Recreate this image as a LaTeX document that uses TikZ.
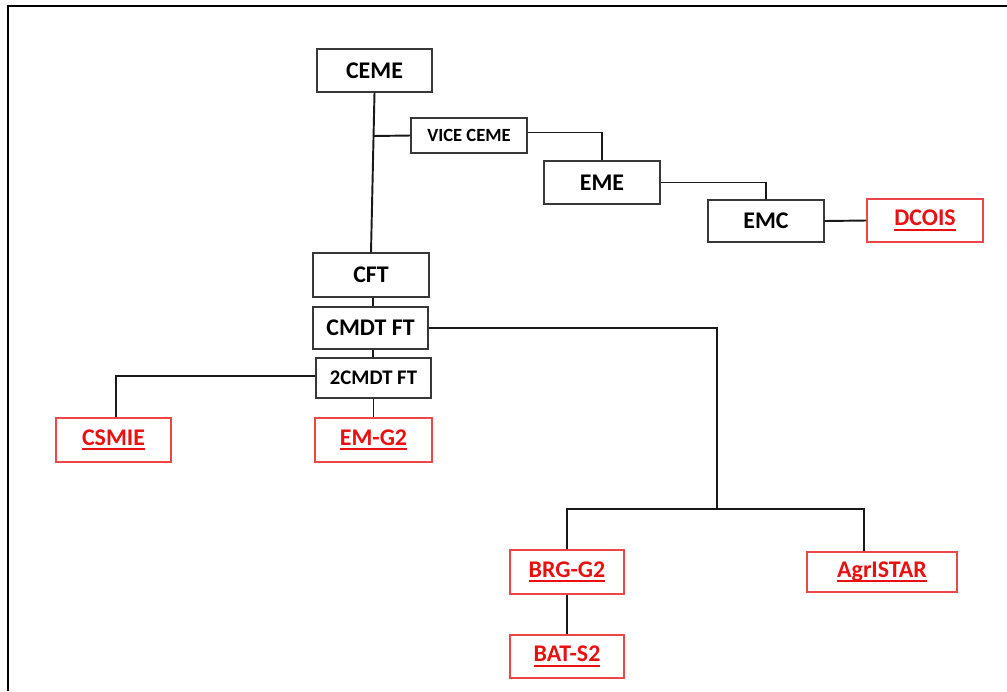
\documentclass[tikz,border=0pt]{standalone}
\usepackage{fontspec}
\setmainfont{Carlito}
\definecolor{redtxt}{RGB}{232,16,16}
\definecolor{redbox}{RGB}{236,70,70}
\definecolor{boxgray}{RGB}{55,55,55}
\newcommand{\redul}[1]{\setbox0\hbox{#1}\rlap{\vrule height -1.6pt depth 2.7pt width \wd0}\box0}
\tikzset{
  blk/.style={draw=boxgray, line width=0.75pt, fill=white, inner sep=0pt, font=\bfseries\fontsize{13.6}{15}\selectfont, text=black},
  rbx/.style={draw=redbox, line width=0.75pt, fill=white, inner sep=0pt, font=\bfseries\fontsize{13.6}{15}\selectfont, text=redtxt},
  conn/.style={line width=1.1pt, draw=black!90},
}
\begin{document}
\begin{tikzpicture}[x=0.02cm,y=-0.02cm]
\useasboundingbox (0,0) rectangle (1007,691);
\draw[line width=1.4pt] (8,691) -- (8,6) -- (1007,6);

\node[blk, minimum width=2.30cm, minimum height=0.86cm] (ceme) at (374.5,70.5) {CEME};
\node[blk, minimum width=2.32cm, minimum height=0.70cm, font=\bfseries\fontsize{10.6}{12}\selectfont] (vice) at (469,135.5) {VICE CEME};
\node[blk, minimum width=2.32cm, minimum height=0.86cm] (eme) at (602,182.5) {EME};
\node[blk, minimum width=2.32cm, minimum height=0.84cm] (emc) at (766,221) {EMC};
\node[rbx, minimum width=2.32cm, minimum height=0.86cm] (dcois) at (925,220.5) {\redul{DCOIS}};
\node[blk, minimum width=2.32cm, minimum height=0.88cm] (cft) at (371,275) {CFT};
\node[blk, minimum width=2.30cm, minimum height=0.84cm] (cmdt) at (370.5,328) {CMDT FT};
\node[blk, minimum width=2.30cm, minimum height=0.80cm, font=\bfseries\fontsize{11.8}{13}\selectfont] (cmdt2) at (373.5,378) {2CMDT FT};
\node[rbx, minimum width=2.30cm, minimum height=0.88cm] (csmie) at (113.5,440) {\redul{CSMIE}};
\node[rbx, minimum width=2.34cm, minimum height=0.88cm] (emg2) at (373.5,440) {\redul{EM-G2}};
\node[rbx, minimum width=2.28cm, minimum height=0.88cm] (brg) at (567,572) {\redul{BRG-G2}};
\node[rbx, minimum width=2.28cm, minimum height=0.86cm] (bat) at (567,656.5) {\redul{BAT-S2}};
\node[rbx, minimum width=3.00cm, minimum height=0.80cm] (agr) at (882,572) {\redul{AgrISTAR}};

\coordinate (j1) at (373,136);
\coordinate (j2) at (717,509);
\coordinate (j3) at (864,509);

\draw[conn] (ceme.south) -- (cft.north);
\draw[conn] (j1) -- (vice.west);
\draw[conn] ([yshift=1.7pt]vice.east) -| (eme.north);
\draw[conn] (eme.east) -| (emc.north);
\draw[conn] (emc.east) -- (dcois.west);
\draw[conn] ([xshift=1pt]cft.south) -- ([xshift=1pt]cft.south |- cmdt.north);
\draw[conn] ([xshift=1.5pt]cmdt.south) -- ([xshift=1.5pt]cmdt.south |- cmdt2.north);
\draw[conn] (cmdt.east) -| (j2);
\draw[conn] (brg.north) |- (j3) -- (j3 |- agr.north);
\draw[conn] (brg.south) -- (bat.north);
\draw[conn] ([yshift=1pt]cmdt2.west) -| ([xshift=1.5pt]csmie.north);
\draw[conn] (cmdt2.south) -- (emg2.north);
\end{tikzpicture}
\end{document}
